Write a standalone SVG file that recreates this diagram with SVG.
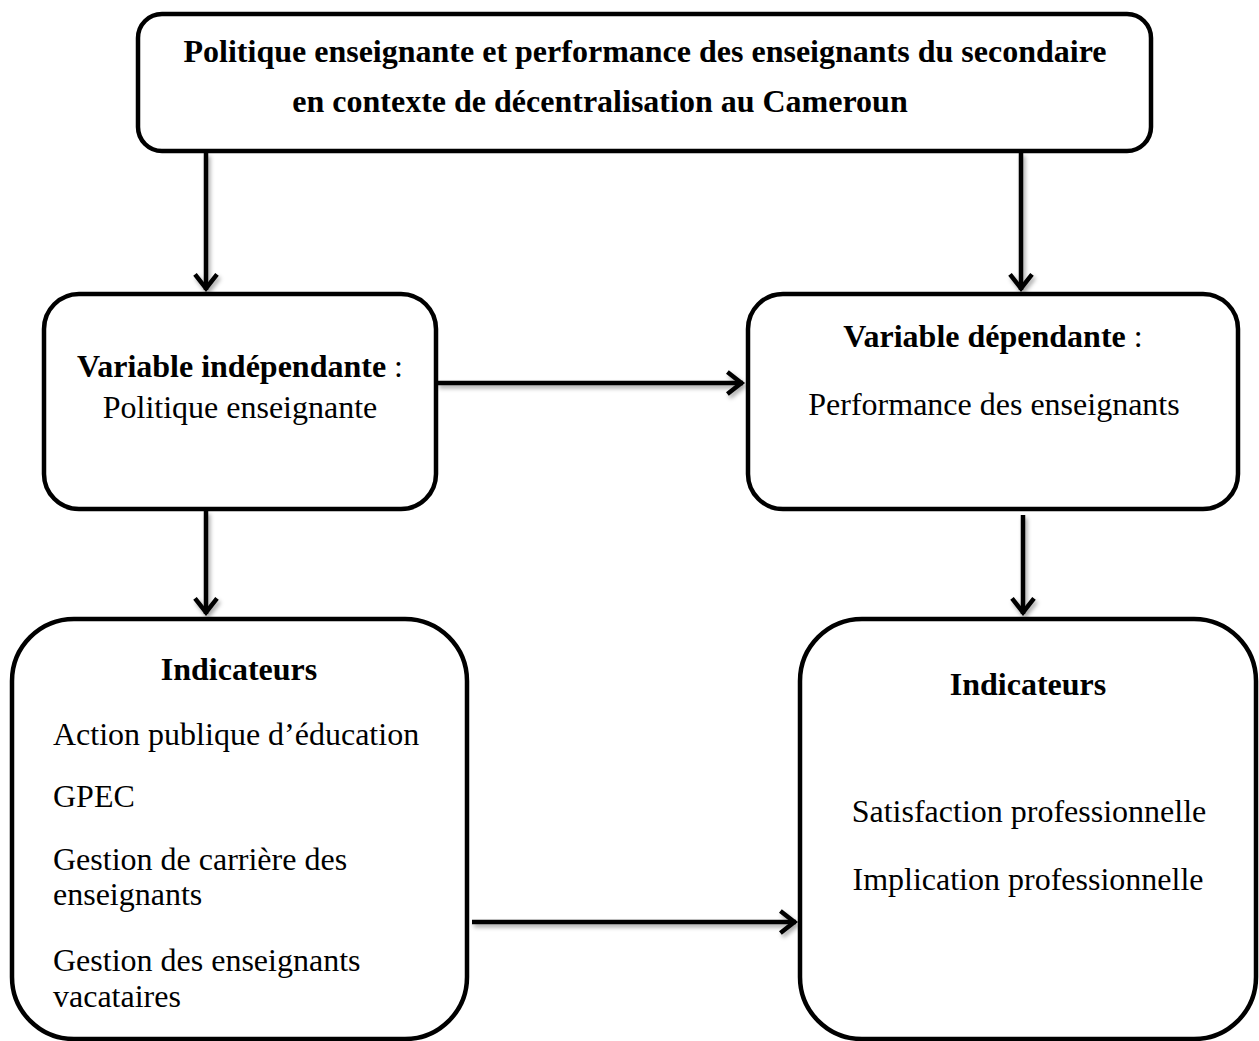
<svg xmlns="http://www.w3.org/2000/svg" width="1259" height="1041" viewBox="0 0 1259 1041">
<style>
.box{fill:#fff;stroke:#000;stroke-width:4.5}
.t{font-family:"Liberation Serif","Times New Roman",serif;font-size:32px;fill:#000}
.b{font-weight:bold}
.c{text-anchor:middle}
.con{fill:none;stroke:#000;stroke-width:4.5}
</style>
<defs>
<filter id="sh" x="-20%" y="-20%" width="140%" height="140%">
<feDropShadow dx="2" dy="3" stdDeviation="2" flood-color="#000" flood-opacity="0.35"/>
</filter>
<marker id="arr" markerUnits="userSpaceOnUse" markerWidth="30" markerHeight="30" refX="0" refY="0" orient="auto" overflow="visible">
<path d="M-15.6,-11 L-1.6,0 L-15.6,11" fill="none" stroke="#000" stroke-width="4.5"/>
</marker>
</defs>
<rect width="1259" height="1041" fill="#fff"/>
<g id="connectors" filter="url(#sh)">
<line class="con" x1="206" y1="153" x2="206" y2="290" marker-end="url(#arr)"/>
<line class="con" x1="1021" y1="153" x2="1021" y2="290" marker-end="url(#arr)"/>
<line class="con" x1="437" y1="383" x2="743" y2="383" marker-end="url(#arr)"/>
<line class="con" x1="206" y1="511" x2="206" y2="614" marker-end="url(#arr)"/>
<line class="con" x1="1023" y1="515" x2="1023" y2="614" marker-end="url(#arr)"/>
<line class="con" x1="472" y1="922" x2="796" y2="922" marker-end="url(#arr)"/>
</g>
<g id="title">
<rect class="box" x="138" y="14" width="1013" height="137" rx="24"/>
<text class="t b c" x="645" y="62">Politique enseignante et performance des enseignants du secondaire</text>
<text class="t b c" x="600" y="112">en contexte de décentralisation au Cameroun</text>
</g>
<g id="var-independante">
<rect class="box" x="44" y="294" width="392" height="215" rx="35"/>
<text class="t c" x="240" y="377"><tspan class="b">Variable indépendante</tspan> :</text>
<text class="t c" x="240" y="418">Politique enseignante</text>
</g>
<g id="var-dependante">
<rect class="box" x="748" y="294" width="490" height="215" rx="35"/>
<text class="t c" x="993" y="347"><tspan class="b">Variable dépendante</tspan> :</text>
<text class="t c" x="994" y="415">Performance des enseignants</text>
</g>
<g id="indicateurs-gauche">
<rect class="box" x="12" y="619" width="455" height="420" rx="62"/>
<text class="t b c" x="239" y="680">Indicateurs</text>
<text class="t" x="53" y="745">Action publique d’éducation</text>
<text class="t" x="53" y="807">GPEC</text>
<text class="t" x="53" y="870">Gestion de carrière des</text>
<text class="t" x="53" y="905">enseignants</text>
<text class="t" x="53" y="971">Gestion des enseignants</text>
<text class="t" x="53" y="1007">vacataires</text>
</g>
<g id="indicateurs-droite">
<rect class="box" x="800" y="619" width="456" height="420" rx="62"/>
<text class="t b c" x="1028" y="695">Indicateurs</text>
<text class="t c" x="1029" y="822">Satisfaction professionnelle</text>
<text class="t c" x="1028" y="890">Implication professionnelle</text>
</g>
</svg>
